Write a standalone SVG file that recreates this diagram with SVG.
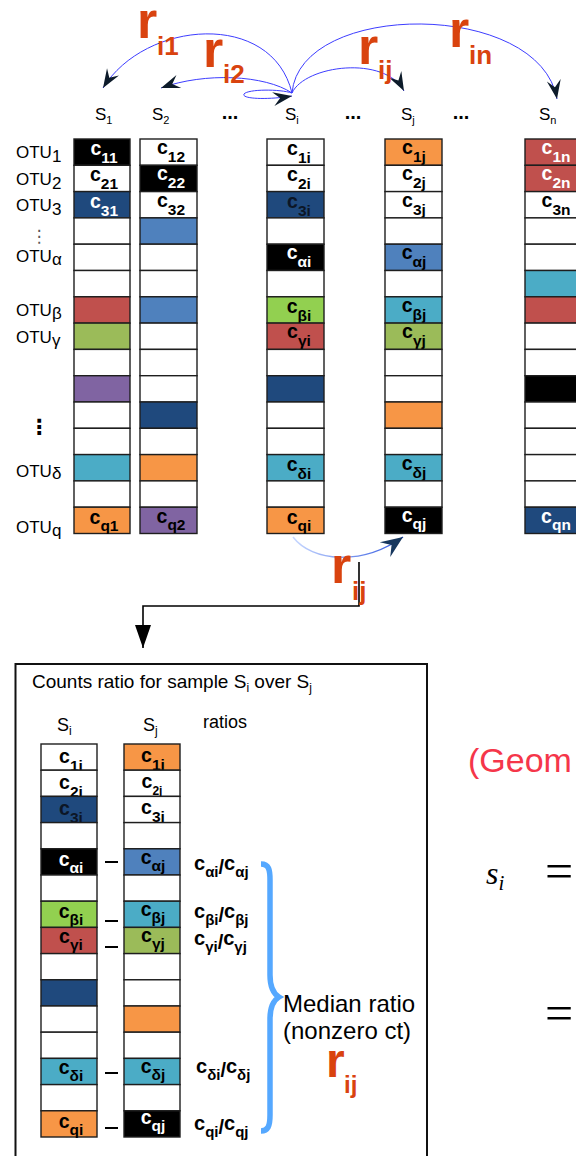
<svg xmlns="http://www.w3.org/2000/svg" width="576" height="1156" viewBox="0 0 576 1156">
<defs>
<style>
 .cell{stroke:#1e1e1e;stroke-width:1.4}
 .w{fill:#fff}.k{fill:#000}.db{fill:#1F497D}.mb{fill:#4F81BD}.rd{fill:#C0504D}.gn{fill:#9BBB59}.lg{fill:#92D050}.pu{fill:#8064A2}.cy{fill:#4BACC6}.or{fill:#F79646}
 .c{font-family:"Liberation Sans",Arial,sans-serif;font-weight:bold;font-size:19.5px;text-anchor:middle;fill:#000}
 .c tspan{font-size:15.5px}
 .wt{fill:#fff}
 .lab{font-family:"Liberation Sans",Arial,sans-serif;font-size:17px;fill:#000}
 .big{font-family:"Liberation Sans",Arial,sans-serif;font-size:18px;fill:#000}
 .dots{font-family:"Liberation Sans",Arial,sans-serif;font-weight:bold;font-size:20px;text-anchor:middle}
 .r{font-family:"Liberation Sans",Arial,sans-serif;font-weight:bold;font-size:52px;fill:#D9430F}
 .r tspan{font-size:26px}
 .rat{font-family:"Liberation Sans",Arial,sans-serif;font-weight:bold;font-size:20px;fill:#000}
 .rat .s{font-size:15px}
 .arc{fill:none;stroke:#3d3dff;stroke-width:1}
</style>
<marker id="stealth" viewBox="-20 -10 22 20" refX="0" refY="0" markerWidth="22" markerHeight="20" markerUnits="userSpaceOnUse" orient="auto">
 <path d="M0,0 L-19,-7 L-12,0 L-19,7 Z" fill="#0d1b2a"/>
</marker>
<marker id="stealthBlue" viewBox="-24 -12 26 24" refX="0" refY="0" markerWidth="26" markerHeight="24" markerUnits="userSpaceOnUse" orient="auto">
 <path d="M0,0 L-22,-9 L-14,0 L-22,9 Z" fill="#17375E"/>
</marker>
<marker id="tri" viewBox="-24 -10 26 20" refX="0" refY="0" markerWidth="26" markerHeight="20" markerUnits="userSpaceOnUse" orient="auto">
 <path d="M0,0 L-23,-8 L-23,8 Z" fill="#000"/>
</marker>
<linearGradient id="fade" x1="293" y1="0" x2="403" y2="0" gradientUnits="userSpaceOnUse">
 <stop offset="0" stop-color="#c8d8ff"/><stop offset="1" stop-color="#2f56e0"/>
</linearGradient>
</defs>
<rect width="576" height="1156" fill="#fff"/>

<!-- sample labels -->
<g id="sample-labels">
 <text class="lab" x="95" y="120">S<tspan style="font-size:11px" dy="4">1</tspan></text>
 <text class="lab" x="152" y="120">S<tspan style="font-size:11px" dy="4">2</tspan></text>
 <text class="lab" x="285" y="120">S<tspan style="font-size:11px" dy="4">i</tspan></text>
 <text class="lab" x="401" y="120">S<tspan style="font-size:11px" dy="4">j</tspan></text>
 <text class="lab" x="539" y="120">S<tspan style="font-size:11px" dy="4">n</tspan></text>
 <text class="dots" x="230" y="119">...</text>
 <text class="dots" x="353" y="119">...</text>
 <text class="dots" x="461" y="119">...</text>
</g>

<!-- OTU labels -->
<g id="otu-labels">
 <text class="lab" x="16" y="158">OTU<tspan dy="4">1</tspan></text>
 <text class="lab" x="16" y="185">OTU<tspan dy="4">2</tspan></text>
 <text class="lab" x="16" y="211">OTU<tspan dy="4">3</tspan></text>
 <text x="39" y="242" font-family="DejaVu Sans, sans-serif" font-size="17" fill="#555" text-anchor="middle">⋮</text>
 <text class="lab" x="16" y="262">OTU<tspan dy="3">α</tspan></text>
 <text class="lab" x="16" y="316">OTU<tspan dy="3">β</tspan></text>
 <text class="lab" x="16" y="343">OTU<tspan dy="3">γ</tspan></text>
 <text x="39" y="434" font-family="DejaVu Sans, sans-serif" font-weight="bold" font-size="21" fill="#000" text-anchor="middle">⋮</text>
 <text class="lab" x="16" y="477">OTU<tspan dy="2">δ</tspan></text>
 <text class="lab" x="16" y="533">OTU<tspan dy="3">q</tspan></text>
</g>

<!-- column S1 -->
<g id="col-s1" transform="translate(74,0)">
 <rect class="cell k" x="0" y="139" width="56" height="26.3"/><text class="c wt" x="30" y="155">c<tspan dy="8">11</tspan></text>
 <rect class="cell w" x="0" y="165.3" width="56" height="26.3"/><text class="c" x="30" y="181.3">c<tspan dy="8">21</tspan></text>
 <rect class="cell db" x="0" y="191.6" width="56" height="26.3"/><text class="c wt" x="30" y="207.6">c<tspan dy="8">31</tspan></text>
 <rect class="cell w" x="0" y="217.9" width="56" height="26.3"/>
 <rect class="cell w" x="0" y="244.2" width="56" height="26.3"/>
 <rect class="cell w" x="0" y="270.5" width="56" height="26.3"/>
 <rect class="cell rd" x="0" y="296.8" width="56" height="26.3"/>
 <rect class="cell gn" x="0" y="323.1" width="56" height="26.3"/>
 <rect class="cell w" x="0" y="349.4" width="56" height="26.3"/>
 <rect class="cell pu" x="0" y="375.7" width="56" height="26.3"/>
 <rect class="cell w" x="0" y="402" width="56" height="26.3"/>
 <rect class="cell w" x="0" y="428.3" width="56" height="26.3"/>
 <rect class="cell cy" x="0" y="454.6" width="56" height="26.3"/>
 <rect class="cell w" x="0" y="480.9" width="56" height="26.3"/>
 <rect class="cell or" x="0" y="507.2" width="56" height="26.3"/><text class="c" x="30" y="524">c<tspan dy="7">q1</tspan></text>
</g>

<!-- column S2 -->
<g id="col-s2" transform="translate(140,0)">
 <rect class="cell w" x="0" y="139" width="57" height="26.3"/><text class="c" x="31" y="154">c<tspan dy="8">12</tspan></text>
 <rect class="cell k" x="0" y="165.3" width="57" height="26.3"/><text class="c wt" x="31" y="180.3">c<tspan dy="8">22</tspan></text>
 <rect class="cell w" x="0" y="191.6" width="57" height="26.3"/><text class="c" x="31" y="206.6">c<tspan dy="8">32</tspan></text>
 <rect class="cell mb" x="0" y="217.9" width="57" height="26.3"/>
 <rect class="cell w" x="0" y="244.2" width="57" height="26.3"/>
 <rect class="cell w" x="0" y="270.5" width="57" height="26.3"/>
 <rect class="cell mb" x="0" y="296.8" width="57" height="26.3"/>
 <rect class="cell w" x="0" y="323.1" width="57" height="26.3"/>
 <rect class="cell w" x="0" y="349.4" width="57" height="26.3"/>
 <rect class="cell w" x="0" y="375.7" width="57" height="26.3"/>
 <rect class="cell db" x="0" y="402" width="57" height="26.3"/>
 <rect class="cell w" x="0" y="428.3" width="57" height="26.3"/>
 <rect class="cell or" x="0" y="454.6" width="57" height="26.3"/>
 <rect class="cell w" x="0" y="480.9" width="57" height="26.3"/>
 <rect class="cell pu" x="0" y="507.2" width="57" height="26.3"/><text class="c" x="31" y="523">c<tspan dy="7">q2</tspan></text>
</g>

<!-- column Si -->
<g id="col-si" transform="translate(267,0)">
 <rect class="cell w" x="0" y="139" width="57" height="26.3"/><text class="c" x="32" y="155">c<tspan dy="8">1i</tspan></text>
 <rect class="cell w" x="0" y="165.3" width="57" height="26.3"/><text class="c" x="32" y="181.3">c<tspan dy="8">2i</tspan></text>
 <rect class="cell db" x="0" y="191.6" width="57" height="26.3"/><text class="c" x="32" y="207.6" style="fill:#0c1626">c<tspan dy="8">3i</tspan></text>
 <rect class="cell w" x="0" y="217.9" width="57" height="26.3"/>
 <rect class="cell k" x="0" y="244.2" width="57" height="26.3"/><text class="c wt" x="32" y="259.2">c<tspan dy="8">αi</tspan></text>
 <rect class="cell w" x="0" y="270.5" width="57" height="26.3"/>
 <rect class="cell lg" x="0" y="296.8" width="57" height="26.3"/><text class="c" x="32" y="312.8">c<tspan dy="8">βi</tspan></text>
 <rect class="cell rd" x="0" y="323.1" width="57" height="26.3"/><text class="c" x="32" y="338.1">c<tspan dy="8">γi</tspan></text>
 <rect class="cell w" x="0" y="349.4" width="57" height="26.3"/>
 <rect class="cell db" x="0" y="375.7" width="57" height="26.3"/>
 <rect class="cell w" x="0" y="402" width="57" height="26.3"/>
 <rect class="cell w" x="0" y="428.3" width="57" height="26.3"/>
 <rect class="cell cy" x="0" y="454.6" width="57" height="26.3"/><text class="c" x="32" y="470.6">c<tspan dy="8">δi</tspan></text>
 <rect class="cell w" x="0" y="480.9" width="57" height="26.3"/>
 <rect class="cell or" x="0" y="507.2" width="57" height="26.3"/><text class="c" x="32" y="524">c<tspan dy="7">qi</tspan></text>
</g>

<!-- column Sj -->
<g id="col-sj" transform="translate(385,0)">
 <rect class="cell or" x="0" y="139" width="57" height="26.3"/><text class="c" x="29" y="154">c<tspan dy="8">1j</tspan></text>
 <rect class="cell w" x="0" y="165.3" width="57" height="26.3"/><text class="c" x="29" y="180.3">c<tspan dy="8">2j</tspan></text>
 <rect class="cell w" x="0" y="191.6" width="57" height="26.3"/><text class="c" x="29" y="206.6">c<tspan dy="8">3j</tspan></text>
 <rect class="cell w" x="0" y="217.9" width="57" height="26.3"/>
 <rect class="cell mb" x="0" y="244.2" width="57" height="26.3"/><text class="c" x="29" y="259.2">c<tspan dy="8">αj</tspan></text>
 <rect class="cell w" x="0" y="270.5" width="57" height="26.3"/>
 <rect class="cell cy" x="0" y="296.8" width="57" height="26.3"/><text class="c" x="29" y="311.8">c<tspan dy="8">βj</tspan></text>
 <rect class="cell gn" x="0" y="323.1" width="57" height="26.3"/><text class="c" x="29" y="338.1">c<tspan dy="8">γj</tspan></text>
 <rect class="cell w" x="0" y="349.4" width="57" height="26.3"/>
 <rect class="cell w" x="0" y="375.7" width="57" height="26.3"/>
 <rect class="cell or" x="0" y="402" width="57" height="26.3"/>
 <rect class="cell w" x="0" y="428.3" width="57" height="26.3"/>
 <rect class="cell cy" x="0" y="454.6" width="57" height="26.3"/><text class="c" x="29" y="469.6">c<tspan dy="8">δj</tspan></text>
 <rect class="cell w" x="0" y="480.9" width="57" height="26.3"/>
 <rect class="cell k" x="0" y="507.2" width="57" height="26.3"/><text class="c wt" x="29" y="522">c<tspan dy="7">qj</tspan></text>
</g>

<!-- column Sn -->
<g id="col-sn" transform="translate(525,0)">
 <rect class="cell rd" x="0" y="139" width="57" height="26.3"/><text class="c wt" x="31" y="154">c<tspan dy="8">1n</tspan></text>
 <rect class="cell rd" x="0" y="165.3" width="57" height="26.3"/><text class="c wt" x="31" y="180.3">c<tspan dy="8">2n</tspan></text>
 <rect class="cell w" x="0" y="191.6" width="57" height="26.3"/><text class="c" x="31" y="206.6">c<tspan dy="8">3n</tspan></text>
 <rect class="cell w" x="0" y="217.9" width="57" height="26.3"/>
 <rect class="cell w" x="0" y="244.2" width="57" height="26.3"/>
 <rect class="cell cy" x="0" y="270.5" width="57" height="26.3"/>
 <rect class="cell rd" x="0" y="296.8" width="57" height="26.3"/>
 <rect class="cell w" x="0" y="323.1" width="57" height="26.3"/>
 <rect class="cell w" x="0" y="349.4" width="57" height="26.3"/>
 <rect class="cell k" x="0" y="375.7" width="57" height="26.3"/>
 <rect class="cell w" x="0" y="402" width="57" height="26.3"/>
 <rect class="cell w" x="0" y="428.3" width="57" height="26.3"/>
 <rect class="cell w" x="0" y="454.6" width="57" height="26.3"/>
 <rect class="cell w" x="0" y="480.9" width="57" height="26.3"/>
 <rect class="cell db" x="0" y="507.2" width="57" height="26.3"/><text class="c wt" x="31" y="523">c<tspan dy="7">qn</tspan></text>
</g>

<!-- connectors -->
<g id="connectors">
 <path class="arc" d="M292,93 C272,10 145,20 103,88" marker-end="url(#stealth)"/>
 <path class="arc" d="M292,93 C265,75 205,72 161,88" marker-end="url(#stealth)"/>
 <path class="arc" d="M292,93 C280,89 248,89 244,94 C241,99 268,100 292,96" marker-end="url(#stealth)"/>
 <path class="arc" d="M292,93 C305,65 385,55 404,91" marker-end="url(#stealth)"/>
 <path class="arc" d="M292,93 C300,0 540,0 557,99" marker-end="url(#stealth)"/>
 <path d="M293,537 C312,562 362,566 403,537" fill="none" stroke="url(#fade)" stroke-width="1.5" marker-end="url(#stealthBlue)"/>
 <path d="M359,562 V606 H143 V648" fill="none" stroke="#000" stroke-width="1.6" marker-end="url(#tri)"/>
</g>

<!-- ratio labels on the connectors -->
<g id="ratio-labels">
 <text class="r" x="137" y="38">r<tspan x="157" y="55">i1</tspan></text>
 <text class="r" x="203" y="67">r<tspan x="223" y="83">i2</tspan></text>
 <text class="r" x="358" y="64">r<tspan x="378" y="79">ij</tspan></text>
 <text class="r" x="449" y="47">r<tspan x="469" y="64">in</tspan></text>
 <text class="r" x="331" y="583">r<tspan x="352" y="600">ij</tspan></text>
</g>

<!-- ratio box for Si over Sj -->
<g id="ratio-box">
 <rect x="15.5" y="664" width="411.5" height="520" fill="none" stroke="#111" stroke-width="2"/>
 <text class="big" x="32" y="688" style="font-size:19px">Counts ratio for sample S<tspan style="font-size:12px" dy="4">i</tspan><tspan dy="-4"> over S</tspan><tspan style="font-size:12px" dy="4">j</tspan></text>
 <text class="big" x="57" y="731">S<tspan style="font-size:12px" dy="4">i</tspan></text>
 <text class="big" x="143" y="731">S<tspan style="font-size:12px" dy="4">j</tspan></text>
 <text class="big" x="203" y="728">ratios</text>
</g>

<g id="box-col-si" transform="translate(41,0)">
 <rect class="cell w" x="0" y="744" width="56" height="26.2"/><text class="c" x="30" y="763">c<tspan dy="8">1i</tspan></text>
 <rect class="cell w" x="0" y="770.2" width="56" height="26.2"/><text class="c" x="30" y="789.2">c<tspan dy="8">2i</tspan></text>
 <rect class="cell db" x="0" y="796.4" width="56" height="26.2"/><text class="c" x="30" y="815.4" style="fill:#0c1626">c<tspan dy="8">3i</tspan></text>
 <rect class="cell w" x="0" y="822.6" width="56" height="26.2"/>
 <rect class="cell k" x="0" y="848.8" width="56" height="26.2"/><text class="c wt" x="30" y="866">c<tspan dy="7">αi</tspan></text>
 <rect class="cell w" x="0" y="875" width="56" height="26.2"/>
 <rect class="cell lg" x="0" y="901.2" width="56" height="26.2"/><text class="c" x="30" y="918">c<tspan dy="7">βi</tspan></text>
 <rect class="cell rd" x="0" y="927.4" width="56" height="26.2"/><text class="c" x="30" y="943">c<tspan dy="7">γi</tspan></text>
 <rect class="cell w" x="0" y="953.6" width="56" height="26.2"/>
 <rect class="cell db" x="0" y="979.8" width="56" height="26.2"/>
 <rect class="cell w" x="0" y="1006" width="56" height="26.2"/>
 <rect class="cell w" x="0" y="1032.2" width="56" height="26.2"/>
 <rect class="cell cy" x="0" y="1058.4" width="56" height="26.2"/><text class="c" x="30" y="1074">c<tspan dy="7">δi</tspan></text>
 <rect class="cell w" x="0" y="1084.6" width="56" height="26.2"/>
 <rect class="cell or" x="0" y="1110.8" width="56" height="26.2"/><text class="c" x="30" y="1128">c<tspan dy="7">qi</tspan></text>
</g>

<g id="box-col-sj" transform="translate(124,0)">
 <rect class="cell or" x="0" y="744" width="56" height="26.2"/><text class="c" x="29" y="762">c<tspan dy="8">1j</tspan></text>
 <rect class="cell w" x="0" y="770.2" width="56" height="26.2"/><text class="c" x="28" y="788">c<tspan dy="7" style="font-size:12px">2j</tspan></text>
 <rect class="cell w" x="0" y="796.4" width="56" height="26.2"/><text class="c" x="29" y="814">c<tspan dy="8">3j</tspan></text>
 <rect class="cell w" x="0" y="822.6" width="56" height="26.2"/>
 <rect class="cell mb" x="0" y="848.8" width="56" height="26.2"/><text class="c" x="29" y="864">c<tspan dy="7">αj</tspan></text>
 <rect class="cell w" x="0" y="875" width="56" height="26.2"/>
 <rect class="cell cy" x="0" y="901.2" width="56" height="26.2"/><text class="c" x="29" y="916">c<tspan dy="7">βj</tspan></text>
 <rect class="cell gn" x="0" y="927.4" width="56" height="26.2"/><text class="c" x="29" y="942">c<tspan dy="7">γj</tspan></text>
 <rect class="cell w" x="0" y="953.6" width="56" height="26.2"/>
 <rect class="cell w" x="0" y="979.8" width="56" height="26.2"/>
 <rect class="cell or" x="0" y="1006" width="56" height="26.2"/>
 <rect class="cell w" x="0" y="1032.2" width="56" height="26.2"/>
 <rect class="cell cy" x="0" y="1058.4" width="56" height="26.2"/><text class="c" x="29" y="1073">c<tspan dy="7">δj</tspan></text>
 <rect class="cell w" x="0" y="1084.6" width="56" height="26.2"/>
 <rect class="cell k" x="0" y="1110.8" width="56" height="26.2"/><text class="c wt" x="29" y="1124">c<tspan dy="7">qj</tspan></text>
</g>

<!-- pairing dashes and ratios -->
<g id="pair-dashes" stroke="#000" stroke-width="2">
 <line x1="105" y1="862" x2="118" y2="862"/>
 <line x1="105" y1="921" x2="118" y2="921"/>
 <line x1="105" y1="947" x2="118" y2="947"/>
 <line x1="105" y1="1073" x2="118" y2="1073"/>
 <line x1="105" y1="1128" x2="118" y2="1128"/>
</g>
<g id="ratio-values">
 <text class="rat" x="194" y="870">c<tspan class="s" dy="7">αi</tspan><tspan dy="-3">/</tspan><tspan dy="-4">c</tspan><tspan class="s" dy="7">αj</tspan></text>
 <text class="rat" x="194" y="918">c<tspan class="s" dy="7">βi</tspan><tspan dy="-3">/</tspan><tspan dy="-4">c</tspan><tspan class="s" dy="7">βj</tspan></text>
 <text class="rat" x="194" y="945">c<tspan class="s" dy="7">γi</tspan><tspan dy="-3">/</tspan><tspan dy="-4">c</tspan><tspan class="s" dy="7">γj</tspan></text>
 <text class="rat" x="196" y="1073">c<tspan class="s" dy="7">δi</tspan><tspan dy="-3">/</tspan><tspan dy="-4">c</tspan><tspan class="s" dy="7">δj</tspan></text>
 <text class="rat" x="194" y="1130">c<tspan class="s" dy="7">qi</tspan><tspan dy="-3">/</tspan><tspan dy="-4">c</tspan><tspan class="s" dy="7">qj</tspan></text>
</g>

<!-- median brace -->
<g id="median">
 <path d="M261,864 C269,864 270,870 270,880 L270,975 C270,988 274,994 279,997 C274,1000 270,1006 270,1019 L270,1115 C270,1126 268,1131 261,1131" fill="none" stroke="#55A8FF" stroke-width="5.5"/>
 <text class="big" x="283" y="1012" style="font-size:24px">Median ratio</text>
 <text class="big" x="283" y="1039" style="font-size:24px">(nonzero ct)</text>
 <text class="r" x="326" y="1077" style="font-size:48px">r<tspan x="344" y="1093" style="font-size:24px">ij</tspan></text>
</g>

<!-- size factor formula -->
<g id="formula">
 <text x="468" y="772" font-family="Liberation Sans, Arial, sans-serif" font-size="34" fill="#F5364A">(Geom</text>
 <text x="486" y="884" font-family="Liberation Serif, serif" font-style="italic" font-size="32" fill="#000">s<tspan font-size="21" dy="6">i</tspan></text>
 <text x="545" y="888" font-family="Liberation Serif, serif" font-size="50" fill="#000">=</text>
 <text x="545" y="1030" font-family="Liberation Serif, serif" font-size="50" fill="#000">=</text>
</g>
</svg>
